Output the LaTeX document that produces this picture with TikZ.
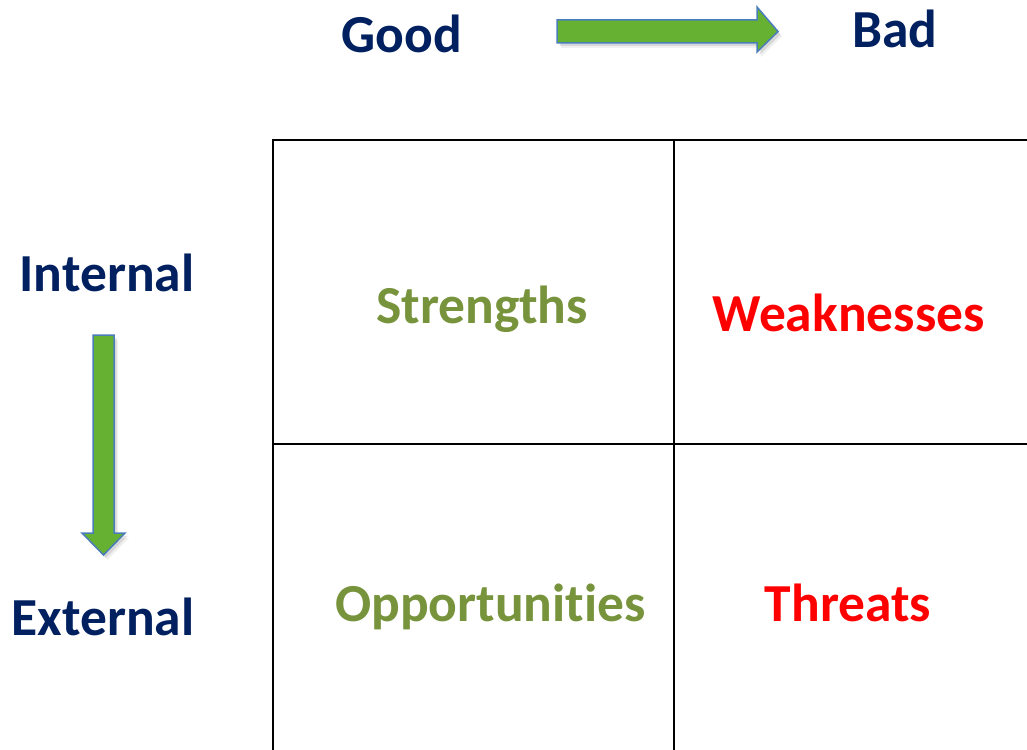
\documentclass[tikz,border=0pt]{standalone}
\usepackage{fontspec}
\setmainfont[Ligatures=NoCommon]{Carlito}
\definecolor{navy}{HTML}{002060}
\definecolor{olive}{HTML}{77933C}
\definecolor{arrowfill}{HTML}{66B032}
\definecolor{arrowedge}{HTML}{4A7EBB}
\begin{document}
\begin{tikzpicture}[x=1pt,y=-1pt,
  lbl/.style={font=\fontsize{53.5}{60}\selectfont\bfseries, anchor=base, inner sep=0pt},
  axis/.style={lbl, text=navy},
  good/.style={lbl, text=olive},
  bad/.style={lbl, text=red},
  gridline/.style={line width=2.7pt, black},
  blockarrow/.style={fill=arrowfill, draw=arrowedge, line width=1.5pt, line join=miter}
]
\useasboundingbox (0,0) rectangle (1027,749);
\clip (0,0) rectangle (1027,749);
\fill[white] (0,0) rectangle (1027,749);

% axis captions
\node[axis] (good) at (402,53) {Good};
\node[axis] (bad) at (895,48) {Bad};
\node[axis] (internal) at (107,291) {Internal};
\node[axis] (external) at (103,635) {External};

% block arrow, left to right
\foreach \dx/\dy/\op in {4/5/0.06,2.5/3/0.10}{
  \fill[black, opacity=\op] (557+\dx,20+\dy) -- (757+\dx,20+\dy) -- (757+\dx,7+\dy) -- (778+\dx,31.5+\dy)
    -- (757+\dx,52+\dy) -- (757+\dx,43+\dy) -- (557+\dx,43+\dy) -- cycle;
}
\draw[blockarrow] (557,20) -- (757,20) -- (757,7) -- (778,31.5) -- (757,52) -- (757,43) -- (557,43) -- cycle;

% block arrow, top to bottom
\foreach \dx/\dy/\op in {4/5/0.06,2.5/3/0.10}{
  \fill[black, opacity=\op] (93+\dx,335+\dy) -- (114+\dx,335+\dy) -- (114+\dx,533+\dy) -- (125+\dx,533+\dy)
    -- (103.5+\dx,555+\dy) -- (82+\dx,533+\dy) -- (93+\dx,533+\dy) -- cycle;
}
\draw[blockarrow] (93,335) -- (114,335) -- (114,533) -- (125,533) -- (103.5,555) -- (82,533) -- (93,533) -- cycle;

% the four-cell grid
\draw[gridline] (1040,140) -- (273,140) -- (273,760);
\draw[gridline] (674,140) -- (674,760);
\draw[gridline] (273,444) -- (1040,444);

% cell labels
\node[good] (strengths) at (482,323) {Strengths};
\node[bad] (weaknesses) at (848.5,331) {Weaknesses};
\node[good] (opportunities) at (490.5,621) {Opportunities};
\node[bad] (threats) at (848,621) {Threats};
\end{tikzpicture}
\end{document}
